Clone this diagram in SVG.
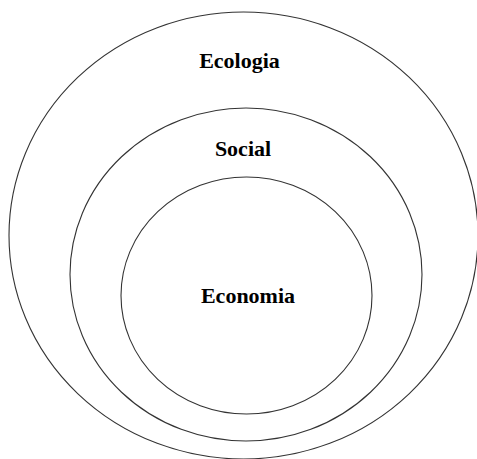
<svg xmlns="http://www.w3.org/2000/svg" width="477" height="459" viewBox="0 0 477 459">
<style>
.ring{fill:none;stroke:#333;stroke-width:1.1}
.lbl{font-family:"Liberation Serif","Times New Roman",serif;font-weight:bold;font-size:22px;fill:#000;text-anchor:middle}
</style>
<rect width="477" height="459" fill="#fff"/>
<g id="ecologia">
<ellipse class="ring" cx="243.5" cy="235.5" rx="234.5" ry="223.5"/>
<text class="lbl" x="239.5" y="68">Ecologia</text>
</g>
<g id="social">
<ellipse class="ring" cx="246" cy="274.5" rx="176" ry="166.5"/>
<text class="lbl" x="243" y="156">Social</text>
</g>
<g id="economia">
<ellipse class="ring" cx="246.5" cy="295.5" rx="125.5" ry="118.5"/>
<text class="lbl" x="248" y="303">Economia</text>
</g>
<g id="connectors"/>
</svg>
